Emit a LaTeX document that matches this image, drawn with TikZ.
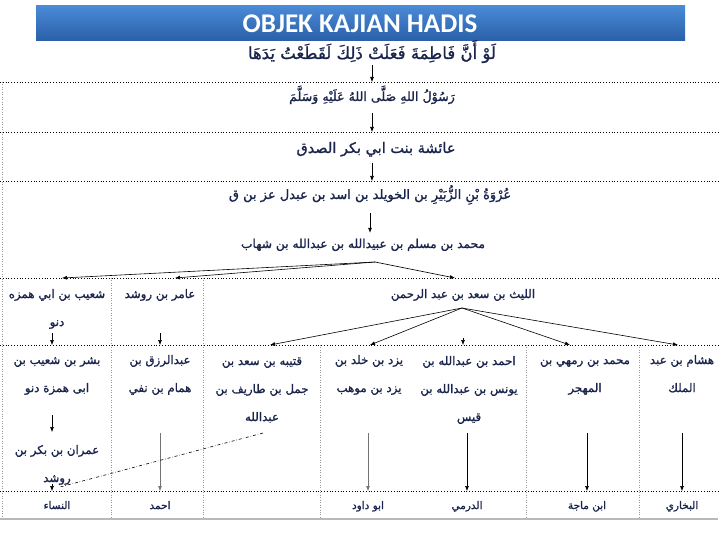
\documentclass[tikz,border=0pt]{standalone}
\usepackage{fontspec}
\setmainfont{Carlito}
\newfontfamily\arabicfont[Script=Arabic,FakeBold=1.2]{DejaVu Sans}
\TeXXeTstate=1
\usetikzlibrary{arrows.meta,calc}
\newcommand{\AR}[1]{{\arabicfont\beginR #1\endR}}
\definecolor{navy}{HTML}{1A254D}
\definecolor{barTop}{HTML}{4A8AD6}
\definecolor{barBot}{HTML}{2A5FA8}
\tikzset{
  ar/.style={font=\arabicfont\fontsize{11.8bp}{28bp}\selectfont, text=navy, align=center, inner sep=1bp, anchor=base},
  arbig/.style={ar, font=\arabicfont\fontsize{12.6bp}{28bp}\selectfont},
  armatn/.style={ar, font=\arabicfont\fontsize{16.5bp}{28bp}\selectfont},
  arsmall/.style={ar, font=\arabicfont\fontsize{10.5bp}{28bp}\selectfont},
  arr/.style={-{Latex[length=5bp,width=4bp]}, line width=0.6bp, black},
  garr/.style={arr, draw=gray!90!black},
  rowline/.style={dotted, line width=0.8bp, black},
  colline/.style={dotted, line width=0.5bp, gray!80},
}
\begin{document}
\begin{tikzpicture}[x=1bp,y=-1bp]
\useasboundingbox (0,0) rectangle (720,540);
\fill[white] (0,0) rectangle (720,540);
% title bar
\shade[top color=barTop, bottom color=barBot] (36,6) rectangle (685,41);
\node[text=white, font=\bfseries\fontsize{27bp}{28bp}\selectfont] (title) at (360,24) {OBJEK KAJIAN HADIS};

% row lines
\coordinate (r1) at (0,82);
\coordinate (r2) at (0,132);
\coordinate (r3) at (0,181);
\coordinate (r4) at (0,278);
\coordinate (r5) at (0,345);
\coordinate (r6) at (0,491);
\foreach \yy in {82,132,181,278,345,491} \draw[rowline] (0,\yy) -- (720,\yy);
\draw[colline] (2,82) -- (2,519);
\foreach \xx in {111,203} \draw[colline] (\xx,278) -- (\xx,345);
\foreach \xx in {111,203,320,526,639} \draw[colline] (\xx,345) -- (\xx,519);
\draw[gray!55, line width=1.6bp] (0,519) -- (718,519);

% chain
\node[armatn] (matn) at (372,59) {\AR{لَوْ أَنَّ فَاطِمَةَ فَعَلَتْ ذَلِكَ لَقَطَعْتُ يَدَهَا}};
\node[arbig] (rasul) at (372,101) {\AR{رَسُوْلُ اللهِ صَلَّى اللهُ عَلَيْهِ وَسَلَّمَ}};
\node[ar, font=\arabicfont\fontsize{14.5bp}{28bp}\selectfont] (aisha) at (376,153) {\AR{عائشة بنت ابي بكر الصدق}};
\node[ar, font=\arabicfont\fontsize{13bp}{28bp}\selectfont] (urwa) at (370,199) {\AR{عُرْوَةُ بْنِ الزُّبَيْرِ بن الخويلد بن اسد بن عبدل عز بن ق}};
\node[ar, font=\arabicfont\fontsize{12.2bp}{28bp}\selectfont] (zuhri) at (363,248) {\AR{محمد بن مسلم بن عبيدالله بن عبدالله بن شهاب}};

% row 3 (base anchor = last line baseline)
\node[ar] (shuaib) at (57,326) {\AR{شعيب بن ابي همزه}\\\AR{دنو}};
\node[ar] (amir) at (160,298) {\AR{عامر بن روشد}};
\node[ar] (laith) at (463,298) {\AR{الليث بن سعد بن عبد الرحمن}};

% row 4
\node[ar] (bishr) at (57,392) {\AR{بشر بن شعيب بن}\\\AR{ابى همزة دنو}};
\node[ar] (razzaq) at (160,392) {\AR{عبدالرزق بن}\\\AR{همام بن نفي}};
\node[ar] (qutaiba) at (262,421) {\AR{قتيبه بن سعد بن}\\\AR{جمل بن طاريف بن}\\\AR{عبدالله}};
\node[ar] (yazid) at (369,392) {\AR{يزد بن خلد بن}\\\AR{يزد بن موهب}};
\node[ar] (ahmad) at (469,421) {\AR{احمد بن عبدالله بن}\\\AR{يونس بن عبدالله بن}\\\AR{قيس}};
\node[ar] (rumhi) at (585,392) {\AR{محمد بن رمهي بن}\\\AR{المهجر}};
\node[ar] (hisham) at (682,392) {\AR{هشام بن عبد}\\\AR{الملك}};
\node[ar] (imran) at (57,482) {\AR{عمران بن بكر بن}\\\AR{روشد}};

% bottom row
\node[arsmall] (nasai) at (57,509) {\AR{النساء}};
\node[arsmall] (ahmadb) at (160,509) {\AR{احمد}};
\node[arsmall] (dawud) at (368,509) {\AR{ابو داود}};
\node[arsmall] (darimi) at (467,509) {\AR{الدرمي}};
\node[arsmall] (majah) at (587,509) {\AR{ابن ماجة}};
\node[arsmall] (bukhari) at (682,509) {\AR{البخاري}};

% chain arrows
\draw[arr] ([yshift=-1bp]matn.south) -- (matn.south |- r1);
\draw[arr] ([yshift=-8bp]rasul.south) -- (rasul.south |- r2);
\draw[arr] ([yshift=-5bp]aisha.south -| rasul.south) -- (rasul.south |- r3);
\draw[arr] ([yshift=-7bp]urwa.south) -- ([yshift=-27bp]urwa.south);

% fan from zuhri
\coordinate (zf) at (375,262);
\draw[arr] (zf) -- ([xshift=5bp]shuaib.north |- r4);
\draw[arr] (zf) -- ([xshift=15bp]amir.north |- r4);
\draw[arr] (zf) -- ([xshift=-8bp]laith.north |- r4);

% row 3 arrows
\draw[arr] ([xshift=-5bp,yshift=-3bp]shuaib.south) -- ([xshift=-5bp]shuaib.south |- r5);
\draw[arr] (160,333) -- (amir.south |- r5);

% fan from laith
\coordinate (lf) at (462,308);
\draw[arr] (lf) -- (270,345);
\draw[arr] (lf) -- (370,345);
\draw[arr] (lf) -- (570,345);
\draw[arr] (lf) -- (678,345);
\draw[arr] (463,338) -- (463,345);

% row 4 arrows
\draw[arr] (52,415) -- (52,432);
\draw[arr] (52,484) -- (52,491);
\draw[garr] (160,433) -- (ahmadb.north |- r6);
\draw[garr] (368,433) -- (dawud.north |- r6);
\draw[arr] (467,433) -- (darimi.north |- r6);
\draw[arr] (587,433) -- (majah.north |- r6);
\draw[arr] (682,433) -- (bukhari.north |- r6);
\draw[dash dot, line width=0.6bp] (263,433) -- (60,487);
\end{tikzpicture}
\end{document}
